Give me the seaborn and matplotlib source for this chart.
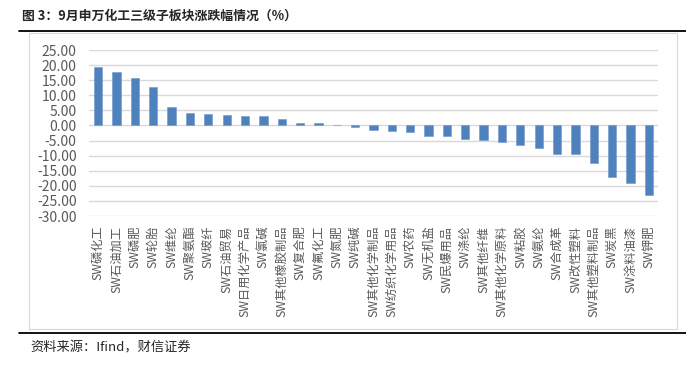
import numpy as np
import pandas as pd
import matplotlib
matplotlib.use("Agg")
import matplotlib.pyplot as plt
from matplotlib.lines import Line2D
from matplotlib.patches import Rectangle
import seaborn as sns

sns.set_style("white")
plt.rcParams['font.family'] = ['Noto Sans CJK SC', 'DejaVu Sans']

# 申万化工三级子板块 9月涨跌幅 (%)
sectors = ["SW磷化工", "SW石油加工", "SW磷肥", "SW轮胎", "SW维纶", "SW聚氨酯", "SW玻纤",
           "SW石油贸易", "SW日用化学产品", "SW氯碱", "SW其他橡胶制品", "SW复合肥", "SW氟化工",
           "SW氮肥", "SW纯碱", "SW其他化学制品", "SW纺织化学用品", "SW农药", "SW无机盐",
           "SW民爆用品", "SW涤纶", "SW其他纤维", "SW其他化学原料", "SW粘胶", "SW氨纶",
           "SW合成革", "SW改性塑料", "SW其他塑料制品", "SW炭黑", "SW涂料油漆", "SW钾肥"]
changes = [19.3, 17.8, 15.7, 12.8, 6.1, 4.2, 3.7, 3.3, 3.0, 3.0, 2.2, 0.7, 0.7,
           0.3, -0.6, -1.4, -2.0, -2.3, -3.5, -3.5, -4.4, -4.7, -5.6, -6.4, -7.5,
           -9.5, -9.5, -12.3, -17.0, -19.1, -23.0]
yticks = np.arange(-30, 30, 5)

df = pd.DataFrame({"sector": sectors, "change": changes})

fig = plt.figure(figsize=(6.86, 3.72), dpi=100)
ax = fig.add_axes([89/686, 1-216/372, (658-89)/686, (216-50)/372])

sns.barplot(data=df, x="sector", y="change", color="#4F81BD", saturation=1,
            width=0.45, ax=ax, zorder=3, edgecolor="#6f97cc", linewidth=0.4)

ax.set_ylim(-30, 25)
ax.set_xlim(-0.5, len(sectors) - 0.5)
ax.set_yticks(yticks)
ax.set_yticklabels([f"{v:.2f}" for v in yticks], fontsize=10, color="#595959")
ax.set_xticks(range(len(sectors)))
ax.set_xticklabels(sectors, rotation=90, fontsize=8.8, color="#595959", va="top", ha="center")
ax.tick_params(axis="y", length=0, pad=9)
ax.tick_params(axis="x", length=0, pad=7)
ax.set_xlabel("")
ax.set_ylabel("")
ax.yaxis.grid(True, color="#D9D9D9", linewidth=1)
ax.set_axisbelow(True)
for s in ax.spines.values():
    s.set_visible(False)

# chart frame and report rules
fig.add_artist(Rectangle((29/686, 1-329/372), (677-29)/686, (329-33)/372,
                         transform=fig.transFigure, fill=False, edgecolor="#D9D9D9", linewidth=0.8))
fig.add_artist(Line2D([19/686, 1], [1-31/372, 1-31/372], transform=fig.transFigure,
                      color="black", linewidth=1.3))
fig.add_artist(Line2D([19/686, 1], [1-333/372, 1-333/372], transform=fig.transFigure,
                      color="black", linewidth=1.3))

fig.text(22/686, 1-16/372, "图 3：9月申万化工三级子板块涨跌幅情况（%）", fontsize=9.3,
         fontweight="bold", va="center", ha="left")
fig.text(30/686, 1-348/372, "资料来源：Ifind，财信证券", fontsize=9.5, style="italic",
         va="center", ha="left")

fig.savefig("out.png", dpi=100)
